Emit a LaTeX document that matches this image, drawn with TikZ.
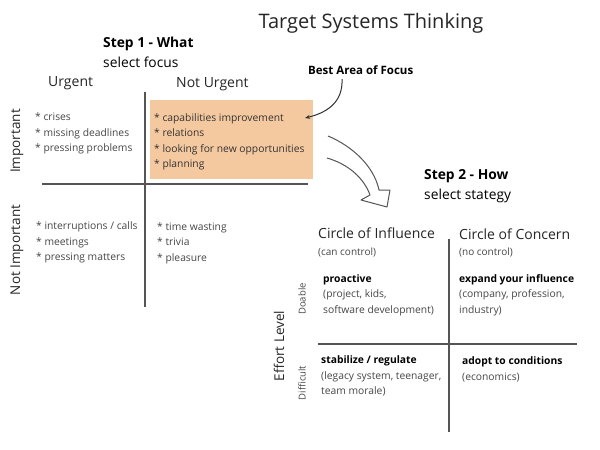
\documentclass[tikz,border=0pt]{standalone}
\usepackage{fontspec}
\setmainfont{Open Sans}
\usetikzlibrary{arrows.meta}
\definecolor{focusorange}{RGB}{245,201,160}
\definecolor{txtgray}{RGB}{70,70,70}
\definecolor{linegray}{RGB}{85,85,85}
\tikzset{
  lbl/.style={inner sep=0pt, anchor=west, text=txtgray},
  items/.style={lbl, align=left, font=\fontsize{10.3}{15.5}\selectfont},
  head/.style={lbl, text=black!85, font=\fontsize{14}{16}\selectfont},
  steptitle/.style={lbl, text=black, font=\fontsize{13.8}{20}\selectfont, align=left},
  sub/.style={lbl, font=\fontsize{10}{10}\selectfont},
  boldlist/.style={lbl, align=left, font=\fontsize{10.3}{15.5}\selectfont},
  gridline/.style={draw=linegray, line width=1.3pt},
  rot/.style={inner sep=0pt, rotate=90, anchor=center, text=black!85},
}
\begin{document}
\begin{tikzpicture}[x=1pt,y=-1pt]
\useasboundingbox[fill=white] (0,0) rectangle (600,450);

% title
\node[inner sep=0pt, text=black!85, font=\fontsize{20}{22}\selectfont] (title) at (371,23) {Target Systems Thinking};

% step 1
\node[steptitle] (step1) at (103,52) {\textbf{Step 1 - What}\\select focus};
\node[head] (urgent) at (48,83) {Urgent};
\node[head] (noturgent) at (176,84) {Not Urgent};
\node[rot, font=\fontsize{13.5}{16}\selectfont] (important) at (17,141) {Important};
\node[rot, font=\fontsize{13.5}{16}\selectfont] (notimportant) at (17,250) {Not Important};

% orange focus area
\fill[focusorange] (150,100) rectangle (313,179);

% grid 1
\draw[gridline] (145,92) -- (145,307);
\draw[gridline] (42,184) -- (308,184);

\node[items] (q1) at (35,133.5) {* crises\\* missing deadlines\\* pressing problems};
\node[items, text=black!80] (q2) at (154,142) {* capabilities improvement\\* relations\\* looking for new opportunities\\* planning};
\node[items] (q3) at (36,242.5) {* interruptions / calls\\* meetings\\* pressing matters};
\node[items] (q4) at (157,243) {* time wasting\\* trivia\\* pleasure};

% best area of focus
\node[inner sep=0pt, anchor=west, text=black, font=\fontsize{11.5}{13}\selectfont\bfseries] (bestarea) at (308,70) {Best Area of Focus};
\coordinate (focuspt) at (305,118);
\draw[line width=1pt, black!80, -{Stealth[length=5pt,width=4pt]}] (342,79) .. controls (343,100) and (330,112) .. (focuspt);

% hollow arrow
\draw[linegray, line width=1pt, line join=round]
  (328,136) .. controls (352,146) and (374,166) .. (379,190)
  -- (390,190) -- (387,207) -- (361,200) -- (370,195)
  .. controls (364,178) and (348,164) .. (327,158);

% step 2
\node[steptitle] (step2) at (424,186.5) {\textbf{Step 2 - How}\\select stategy};

% grid 2
\draw[gridline] (449,239) -- (449,432);
\draw[gridline] (318,344) -- (577,344);

\node[lbl, text=black!85, font=\fontsize{14}{16}\selectfont] (influence) at (318,233) {Circle of Influence};
\node[sub] (cancontrol) at (318,252) {(can control)};
\node[lbl, text=black!85, font=\fontsize{14}{16}\selectfont] (concern) at (459,234) {Circle of Concern};
\node[sub] (nocontrol) at (459,252) {(no control)};

\node[boldlist] (proactive) at (323,295) {\textbf{\textcolor{black}{proactive}}\\(project, kids,\\software development)};
\node[boldlist] (expand) at (459,295) {\textbf{\textcolor{black}{expand your influence}}\\(company, profession,\\industry)};
\node[boldlist] (stabilize) at (321,376) {\textbf{\textcolor{black}{stabilize / regulate}}\\(legacy system, teenager,\\team morale)};
\node[boldlist] (adopt) at (462,369.5) {\textbf{\textcolor{black}{adopt to conditions}}\\(economics)};

\node[rot, font=\fontsize{13.5}{16}\selectfont] (effort) at (279,346) {Effort Level};
\node[rot, text=txtgray, font=\fontsize{9.5}{10}\selectfont] (doable) at (302,299) {Doable};
\node[rot, text=txtgray, font=\fontsize{9.5}{10}\selectfont] (difficult) at (302,383) {Difficult};
\end{tikzpicture}
\end{document}
